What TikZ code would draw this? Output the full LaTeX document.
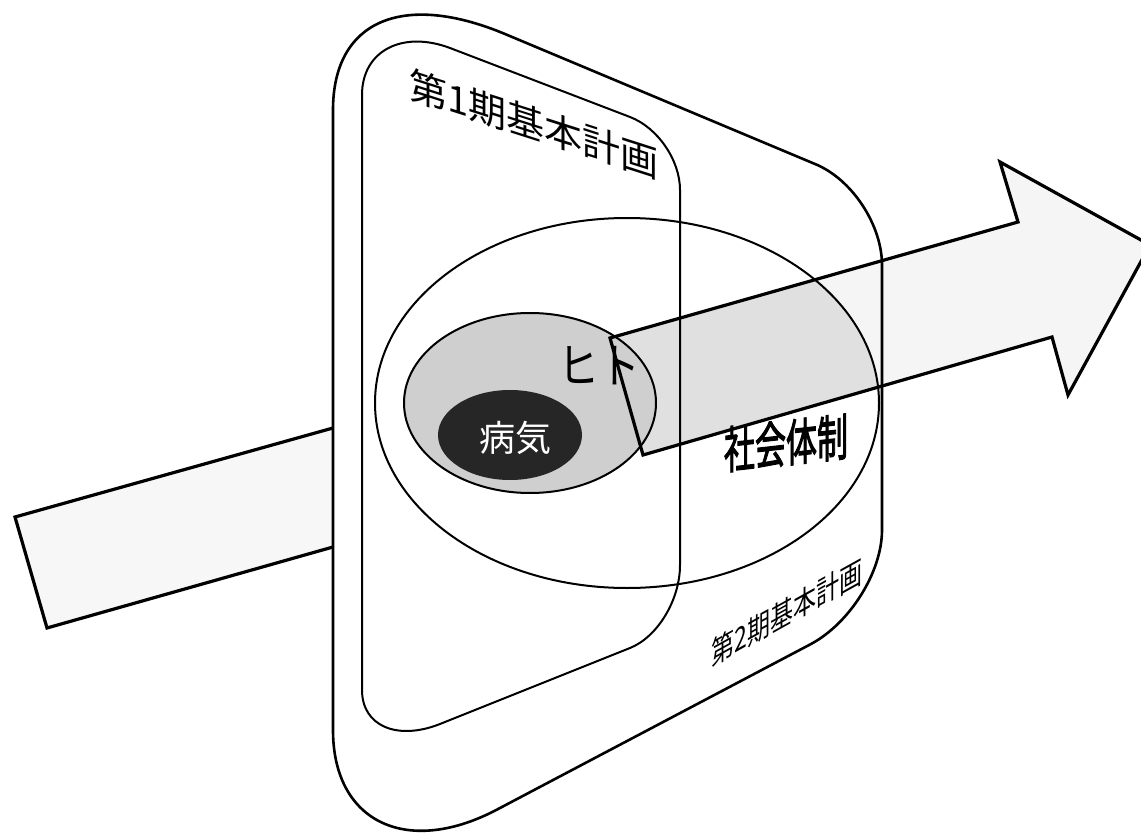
\documentclass[tikz,border=0pt]{standalone}
\usepackage{fontspec}
\newfontfamily\jp{Noto Sans CJK JP}
\newfontfamily\jpb[FakeBold=2.5]{Noto Sans CJK JP}
\begin{document}
\begin{tikzpicture}[x=1pt,y=-1pt,
  panel/.style={line width=2.6pt, line join=round},
  innerpanel/.style={line width=2pt, line join=round},
  arrowline/.style={line width=3.2pt, line join=miter},
  ell/.style={line width=2pt},
  lbl/.style={inner sep=0pt, font=\jp}]
\useasboundingbox (0,0) rectangle (1141,837);
\clip (0,0) rectangle (1141,837);

% left part of the arrow (behind the panels)
\path[fill=black!3] (333,428) -- (15,517) -- (47,628) -- (333,547) -- cycle;
\draw[arrowline] (333,428) -- (15,517) -- (47,628) -- (333,547);

% right part of the arrow: fill
\path[fill=black!4] (610,338) -- (1018,222) -- (1000,162) -- (1150,245) -- (1068,395) -- (1052,337) -- (643,455) -- cycle;
\begin{scope}
  \clip (627,403) ellipse [x radius=252, y radius=185];
  \path[fill=black!12] (610,338) -- (1018,222) -- (1000,162) -- (1150,245) -- (1068,395) -- (1052,337) -- (643,455) -- cycle;
\end{scope}

% ヒト ellipse fill
\fill[black!19] (530,403) ellipse [x radius=126, y radius=90];

% outer panel (第2期)
\draw[panel] (333,110) .. controls (333,21) and (402,-9) .. (505,34)
  -- (815,164) .. controls (852,179) and (882,225) .. (882,265)
  -- (882,530) .. controls (882,572) and (850,623) .. (811,644)
  -- (500,808) .. controls (408,858) and (333,823) .. (333,730) -- cycle;

% inner panel (第1期)
\draw[innerpanel] (362,95) .. controls (362,51) and (402,30) .. (450,48)
  -- (630,117) .. controls (657.5,127.5) and (680,160) .. (680,190)
  -- (680,565) .. controls (680,600) and (657.5,637) .. (630,648)
  -- (440,724) .. controls (397,741) and (362,726) .. (362,690) -- cycle;

% big ellipse (社会体制)
\draw[ell] (627,403) ellipse [x radius=252, y radius=185];
% ヒト ellipse
\draw[ell] (530,403) ellipse [x radius=126, y radius=90];
% 病気 ellipse
\fill[black!85] (510,435) ellipse [x radius=72, y radius=45];

% right part of the arrow: outline
\draw[arrowline] (610,338) -- (1018,222) -- (1000,162) -- (1150,245) -- (1068,395) -- (1052,337) -- (643,455) -- cycle;

% labels
\node[lbl, font=\jp\fontsize{38}{38}\selectfont, yslant=-0.32] (plan1) at (534,124) {第1期基本計画};
\node[lbl, font=\jp\fontsize{32}{32}\selectfont, xscale=0.72, yslant=0.4] (plan2) at (787,612) {第2期基本計画};
\node[lbl, font=\jpb\fontsize{50}{50}\selectfont, xscale=0.62, yslant=0.07] (society) at (786,443) {社会体制};
\node[lbl, font=\jp\fontsize{48}{48}\selectfont, xscale=0.85] (human) at (599,366) {ヒト};
\node[lbl, font=\jp\fontsize{36}{36}\selectfont, text=white] (disease) at (515,438) {病気};
\end{tikzpicture}
\end{document}
